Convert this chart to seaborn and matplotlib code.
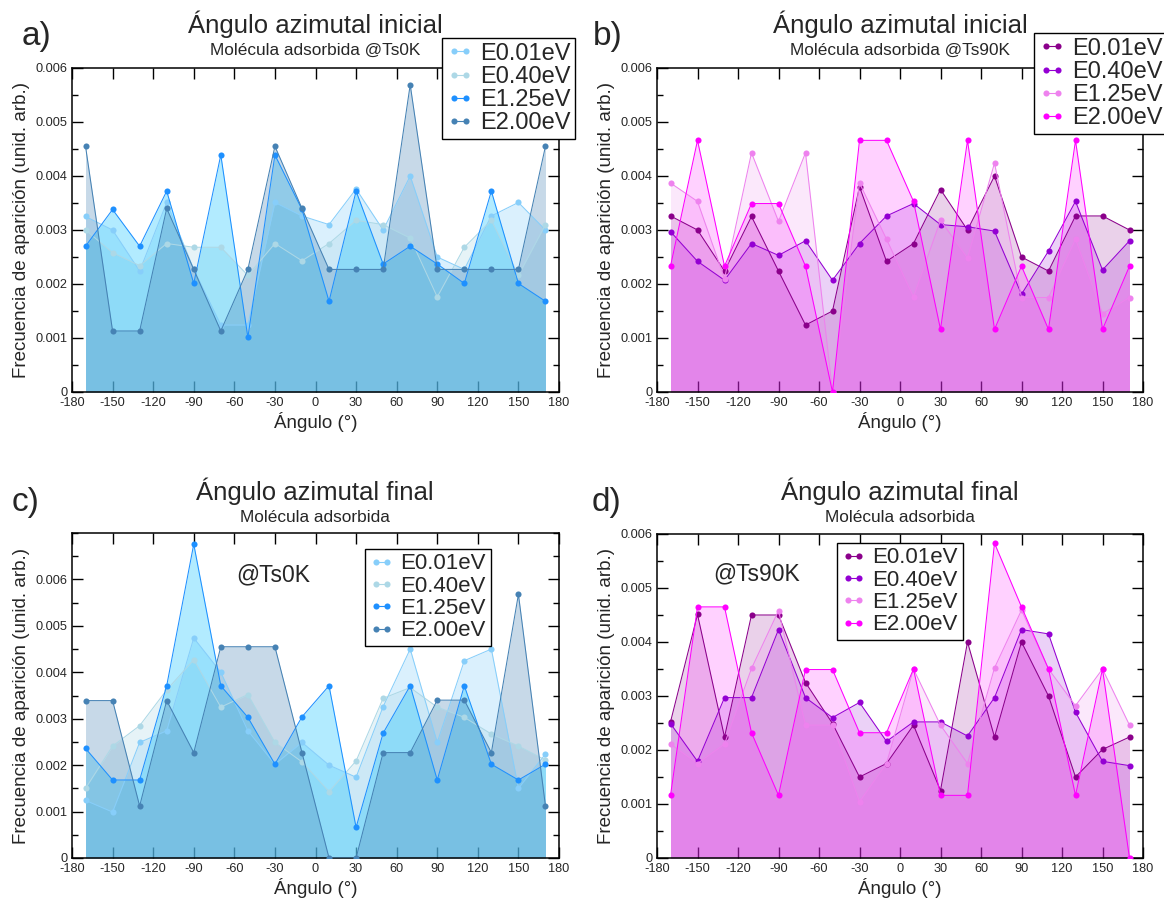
import numpy as np
import pandas as pd
import matplotlib
matplotlib.use("Agg")
import matplotlib.pyplot as plt
from matplotlib.lines import Line2D
from matplotlib.ticker import MultipleLocator, FuncFormatter
import seaborn as sns

# ---------------------------------------------------------------- data
angulos = [-170, -150, -130, -110, -90, -70, -50, -30, -10,
           10, 30, 50, 70, 90, 110, 130, 150, 170]
series = ["E0.01eV", "E0.40eV", "E1.25eV", "E2.00eV"]

# frequencies in units of 1e-3
ini_0K_e001 = [3.25, 3.00, 2.24, 3.51, 2.27, 1.24, 1.24, 3.51, 3.26, 3.10, 3.76, 3.00, 4.00, 2.50, 2.27, 3.26, 3.51, 3.00]
ini_0K_e040 = [3.00, 2.58, 2.34, 2.75, 2.68, 2.68, 2.16, 2.75, 2.43, 2.75, 3.18, 3.10, 2.85, 1.76, 2.68, 3.18, 2.16, 3.10]
ini_0K_e125 = [2.70, 3.38, 2.70, 3.72, 2.01, 4.39, 1.01, 4.39, 3.38, 1.68, 3.72, 2.37, 2.70, 2.37, 2.01, 3.72, 2.01, 1.68]
ini_0K_e200 = [4.55, 1.13, 1.13, 3.40, 2.27, 1.13, 2.27, 4.55, 3.40, 2.27, 2.27, 2.27, 5.69, 2.27, 2.27, 2.27, 2.27, 4.55]

ini_90K_e001 = [3.26, 3.00, 2.24, 3.25, 2.24, 1.24, 1.50, 3.80, 2.42, 2.75, 3.75, 3.00, 4.00, 2.50, 2.24, 3.26, 3.26, 3.00]
ini_90K_e040 = [2.97, 2.42, 2.07, 2.75, 2.53, 2.80, 2.07, 2.75, 3.26, 3.49, 3.10, 3.06, 2.98, 1.81, 2.61, 3.53, 2.26, 2.80]
ini_90K_e125 = [3.87, 3.53, 2.10, 4.43, 3.16, 4.43, 0.00, 3.87, 2.83, 1.76, 3.18, 2.48, 4.24, 1.75, 1.75, 2.83, 1.45, 1.75]
ini_90K_e200 = [2.33, 4.66, 2.33, 3.49, 3.49, 2.33, 0.00, 4.66, 4.66, 3.53, 1.16, 4.66, 1.16, 2.33, 1.16, 4.66, 1.16, 2.33]

fin_0K_e001 = [1.24, 0.99, 2.49, 2.74, 4.74, 4.00, 2.74, 2.02, 2.49, 2.00, 1.74, 3.26, 4.50, 2.49, 4.25, 4.50, 1.50, 2.24]
fin_0K_e040 = [1.50, 2.41, 2.85, 3.62, 4.27, 3.25, 3.52, 2.49, 2.07, 1.43, 2.09, 3.44, 3.67, 3.25, 3.03, 2.67, 2.41, 2.11]
fin_0K_e125 = [2.36, 1.68, 1.68, 3.71, 6.76, 3.71, 3.03, 2.02, 3.04, 3.71, 0.66, 2.69, 3.71, 1.68, 3.71, 2.02, 1.68, 2.02]
fin_0K_e200 = [3.39, 3.39, 1.12, 3.39, 2.27, 4.55, 4.55, 4.55, 2.27, 0.00, 0.00, 2.27, 2.27, 3.40, 3.40, 2.27, 5.68, 1.12]

fin_90K_e001 = [2.52, 4.51, 2.24, 4.50, 4.50, 3.25, 2.49, 1.50, 1.75, 2.46, 1.25, 4.00, 2.24, 4.00, 3.00, 1.50, 2.01, 2.24]
fin_90K_e040 = [2.49, 1.79, 2.97, 2.97, 4.23, 2.97, 2.60, 2.88, 2.16, 2.52, 2.52, 2.26, 2.97, 4.23, 4.15, 2.70, 1.79, 1.71]
fin_90K_e125 = [2.11, 1.75, 2.11, 3.51, 4.58, 2.46, 2.46, 1.04, 1.75, 3.50, 2.46, 1.75, 3.52, 4.59, 3.50, 2.82, 3.50, 2.46]
fin_90K_e200 = [1.16, 4.65, 4.65, 2.32, 1.16, 3.49, 3.49, 2.32, 2.32, 3.50, 1.16, 1.16, 5.83, 4.65, 3.50, 1.16, 3.50, 0.00]

escala = 1e-3

azules = ["#87CEFA", "#ADD8E6", "#1E90FF", "#4682B4"]
azules_relleno = ["#87CEFA", "#ADD8E6", "#00BFFF", "#4682B4"]
magentas = ["#8B008B", "#9400D3", "#EE82EE", "#FF00FF"]

# ---------------------------------------------------------------- style
sns.set_style("ticks")
plt.rcParams["font.family"] = ["Liberation Sans", "DejaVu Sans"]
plt.rcParams["axes.unicode_minus"] = False

W, H = 1164, 899
fig = plt.figure(figsize=(W / 100, H / 100), dpi=100)


def px_axes(left, top, right, bottom):
    return fig.add_axes([left / W, 1 - bottom / H, (right - left) / W, (bottom - top) / H])


def panel(ax, datos, colores, relleno, alfa, ymax):
    filas = []
    for nombre, vals in zip(series, datos):
        for a, v in zip(angulos, vals):
            filas.append({"Ángulo": a, "Frecuencia": v * escala, "Serie": nombre})
    df = pd.DataFrame(filas)
    # shaded areas, drawn in series order
    for vals, c in zip(datos, relleno):
        ax.fill_between(angulos, np.array(vals) * escala, 0, color=c, alpha=alfa,
                        linewidth=0, zorder=1)
    sns.lineplot(data=df, x="Ángulo", y="Frecuencia", hue="Serie", hue_order=series,
                 palette=dict(zip(series, colores)), marker="o", markersize=4.4,
                 markeredgewidth=0, linewidth=0.75, legend=False, sort=False,
                 ax=ax, zorder=3)
    ax.set_xlim(-180, 180)
    ax.set_ylim(0, ymax)
    ax.set_xticks(np.arange(-180, 181, 30))
    ax.set_yticks(np.arange(0, 0.006 + 1e-9, 0.001))
    ax.yaxis.set_minor_locator(MultipleLocator(0.0005))
    ax.yaxis.set_major_formatter(FuncFormatter(lambda v, p: "0" if abs(v) < 1e-12 else f"{v:.3f}"))
    ax.tick_params(which="both", direction="in", top=True, right=True, labelsize=9.2,
                   width=1.0, color="black")
    ax.tick_params(which="major", length=8, pad=3.5)
    ax.tick_params(which="minor", length=4)
    ax.tick_params(axis="x", which="minor", top=False, bottom=False)
    for s in ax.spines.values():
        s.set_linewidth(1.1)
        s.set_color("black")
    ax.set_xlabel("Ángulo (°)", fontsize=13.5, labelpad=2)
    ax.set_ylabel("Frecuencia de aparición (unid. arb.)", fontsize=13.5, labelpad=4)


def leyenda(ax, colores, x, y, fs, sp):
    handles = [Line2D([0], [0], color=c, marker="o", markersize=4.4, markeredgewidth=0,
                      linewidth=0.8) for c in colores]
    leg = ax.legend(handles, series, loc="upper left", bbox_to_anchor=(x / W, 1 - y / H),
                    bbox_transform=fig.transFigure, borderaxespad=0, fontsize=fs,
                    numpoints=2, handlelength=1.1, handletextpad=0.3, labelspacing=sp,
                    borderpad=0.2, fancybox=False, framealpha=1, edgecolor="black")
    leg.get_frame().set_linewidth(1.0)
    leg.set_zorder(10)


axa = px_axes(72, 68, 559, 392)
axb = px_axes(657, 68, 1143, 392)
axc = px_axes(72, 533, 559, 858)
axd = px_axes(657, 534, 1143, 858)

panel(axa, [ini_0K_e001, ini_0K_e040, ini_0K_e125, ini_0K_e200], azules, azules_relleno, 0.3, 0.006)
panel(axb, [ini_90K_e001, ini_90K_e040, ini_90K_e125, ini_90K_e200], magentas, magentas, 0.18, 0.006)
panel(axc, [fin_0K_e001, fin_0K_e040, fin_0K_e125, fin_0K_e200], azules, azules_relleno, 0.3, 0.007)
panel(axd, [fin_90K_e001, fin_90K_e040, fin_90K_e125, fin_90K_e200], magentas, magentas, 0.18, 0.006)

leyenda(axa, azules, 442, 38, 17, 0.05)
leyenda(axb, magentas, 1034, 33, 17, 0.05)
leyenda(axc, azules, 365, 549, 16, 0.06)
leyenda(axd, magentas, 837, 543, 16, 0.06)

# titles, subtitles and panel tags
def texto(x, y, s, fs, **kw):
    fig.text(x / W, 1 - y / H, s, fontsize=fs, ha=kw.pop("ha", "center"),
             va=kw.pop("va", "center"), **kw)

texto(315, 24, "Ángulo azimutal inicial", 18.5)
texto(315, 50, "Molécula adsorbida @Ts0K", 12.4)
texto(900, 24, "Ángulo azimutal inicial", 18.5)
texto(900, 50, "Molécula adsorbida @Ts90K", 12.4)
texto(315, 491, "Ángulo azimutal final", 18.5)
texto(315, 517, "Molécula adsorbida", 12.4)
texto(900, 491, "Ángulo azimutal final", 18.5)
texto(900, 517, "Molécula adsorbida", 12.4)

texto(22, 37, "a)", 24, ha="left")
texto(593, 37, "b)", 24, ha="left")
texto(12, 502, "c)", 24, ha="left")
texto(592, 502, "d)", 24, ha="left")

texto(273, 575, "@Ts0K", 16.5)
texto(757, 574, "@Ts90K", 16.5)

fig.savefig("out.png", dpi=100)
